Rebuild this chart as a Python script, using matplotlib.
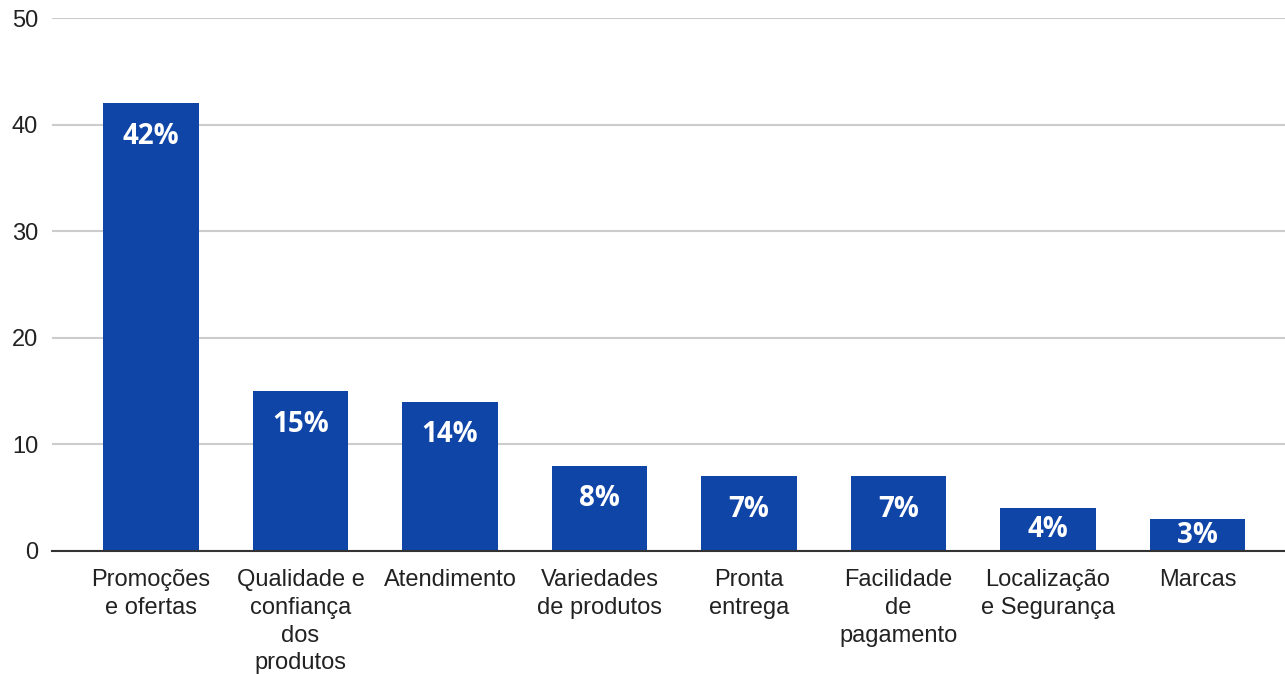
import matplotlib.pyplot as plt

categories = ["Promoções\ne ofertas", "Qualidade e\nconfiança\ndos\nprodutos", "Atendimento",
              "Variedades\nde produtos", "Pronta\nentrega", "Facilidade\nde\npagamento",
              "Localização\ne Segurança", "Marcas"]
values = [42, 15, 14, 8, 7, 7, 4, 3]
yticks = [0, 10, 20, 30, 40, 50]

bar_color = "#1045a8"

fig = plt.figure(figsize=(12.85, 6.74), dpi=100)
ax = fig.add_axes([0.0405, 0.1825, 0.9595, 0.7905])

x = list(range(len(values)))
ax.bar(x, values, width=0.64, color=bar_color, zorder=3)

# value labels sit near the top of each bar, or mid-bar for short ones
for xi, v in zip(x, values):
    y = max(v - 3.1, v / 2)
    ax.text(xi, y, f"{v}%", ha="center", va="center", color="white",
            fontsize=20, fontweight="bold", family="Open Sans", zorder=4)

ax.set_xlim(-0.662, 7.585)
ax.set_ylim(0, 50)
ax.set_yticks(yticks)
ax.set_xticks(x)
ax.set_xticklabels(categories, family="Liberation Sans", fontsize=17, color="#222222",
                   linespacing=1.34)
for lbl in ax.get_yticklabels():
    lbl.set_family("Liberation Sans")
    lbl.set_fontsize(17)
    lbl.set_color("#222222")

ax.tick_params(axis="both", length=0)
ax.tick_params(axis="x", pad=13)
ax.tick_params(axis="y", pad=10)
ax.yaxis.grid(True, color="#cccccc", linewidth=1.5, zorder=0)
for side in ["top", "right", "left"]:
    ax.spines[side].set_visible(False)
ax.spines["bottom"].set_color("#333333")
ax.spines["bottom"].set_linewidth(1.5)
ax.spines["bottom"].set_zorder(5)

fig.savefig("out.png", dpi=100)
